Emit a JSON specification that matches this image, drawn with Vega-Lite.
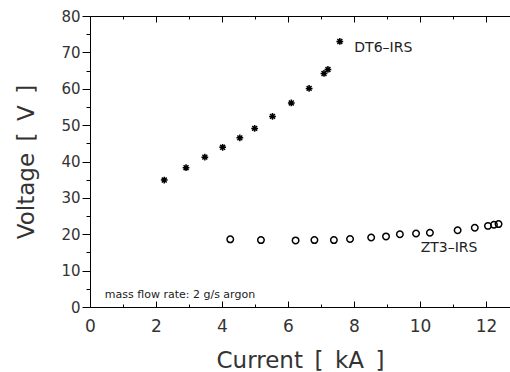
{
  "$schema": "https://vega.github.io/schema/vega-lite/v6.json",
  "width": 420,
  "height": 291,
  "autosize": {"type": "none"},
  "padding": {"left": 90, "top": 16, "right": 0, "bottom": 65},
  "background": "white",
  "config": {
    "view": {"stroke": null},
    "font": "DejaVu Sans",
    "axis": {"grid": false, "domainColor": "#000", "tickColor": "#000", "labelColor": "#333", "titleColor": "#333", "titleFontWeight": "normal", "domainWidth": 1, "tickWidth": 1}
  },
  "datasets": {
    "points": [
      {"current": 2.25, "voltage": 34.9, "series": "DT6-IRS"},
      {"current": 2.91, "voltage": 38.3, "series": "DT6-IRS"},
      {"current": 3.48, "voltage": 41.2, "series": "DT6-IRS"},
      {"current": 4.02, "voltage": 43.9, "series": "DT6-IRS"},
      {"current": 4.54, "voltage": 46.5, "series": "DT6-IRS"},
      {"current": 4.99, "voltage": 49.1, "series": "DT6-IRS"},
      {"current": 5.53, "voltage": 52.4, "series": "DT6-IRS"},
      {"current": 6.10, "voltage": 56.1, "series": "DT6-IRS"},
      {"current": 6.64, "voltage": 60.1, "series": "DT6-IRS"},
      {"current": 7.09, "voltage": 64.2, "series": "DT6-IRS"},
      {"current": 7.21, "voltage": 65.3, "series": "DT6-IRS"},
      {"current": 7.57, "voltage": 73.0, "series": "DT6-IRS"},
      {"current": 4.25, "voltage": 18.6, "series": "ZT3-IRS"},
      {"current": 5.18, "voltage": 18.4, "series": "ZT3-IRS"},
      {"current": 6.23, "voltage": 18.3, "series": "ZT3-IRS"},
      {"current": 6.80, "voltage": 18.4, "series": "ZT3-IRS"},
      {"current": 7.39, "voltage": 18.4, "series": "ZT3-IRS"},
      {"current": 7.88, "voltage": 18.7, "series": "ZT3-IRS"},
      {"current": 8.52, "voltage": 19.1, "series": "ZT3-IRS"},
      {"current": 8.97, "voltage": 19.4, "series": "ZT3-IRS"},
      {"current": 9.39, "voltage": 20.0, "series": "ZT3-IRS"},
      {"current": 9.88, "voltage": 20.2, "series": "ZT3-IRS"},
      {"current": 10.30, "voltage": 20.4, "series": "ZT3-IRS"},
      {"current": 11.14, "voltage": 21.1, "series": "ZT3-IRS"},
      {"current": 11.66, "voltage": 21.8, "series": "ZT3-IRS"},
      {"current": 12.06, "voltage": 22.3, "series": "ZT3-IRS"},
      {"current": 12.24, "voltage": 22.6, "series": "ZT3-IRS"},
      {"current": 12.38, "voltage": 22.8, "series": "ZT3-IRS"}
    ],
    "labels": [
      {"current": 8.01, "voltage": 71.2, "text": "DT6–IRS", "kind": "series"},
      {"current": 10.02, "voltage": 16.1, "text": "ZT3–IRS", "kind": "series"},
      {"current": 0.45, "voltage": 3.3, "text": "mass flow rate: 2 g/s argon", "kind": "note"}
    ]
  },
  "layer": [
    {
      "data": {"name": "points"},
      "mark": {"type": "point", "filled": false, "strokeWidth": 1.5, "opacity": 1},
      "encoding": {
        "x": {
          "field": "current", "type": "quantitative",
          "scale": {"domain": [0, 12.727], "nice": false, "zero": false},
          "axis": {
            "orient": "bottom", "title": "Current\u2002[\u2002kA\u2002]", "titleFontSize": 23, "titlePadding": 15,
            "values": [0,2,4,6,8,10,12],
            "labelFontSize": 17, "labelPadding": 17, "labelFlush": false,
            "tickSize": -6
          }
        },
        "y": {
          "field": "voltage", "type": "quantitative",
          "scale": {"domain": [0, 80], "nice": false},
          "axis": {
            "title": "Voltage\u2002[\u2002V\u2002]", "titleFontSize": 23, "titlePadding": 22,
            "values": [0,10,20,30,40,50,60,70,80],
            "labelFontSize": 15, "labelPadding": 2, "labelFlush": false, "labelOverlap": false,
            "tickSize": 8
          }
        },
        "shape": {
          "field": "series", "type": "nominal",
          "scale": {"domain": ["DT6-IRS", "ZT3-IRS"], "range": ["M-1,0L1,0M0,-1L0,1M-0.72,-0.72L0.72,0.72M-0.72,0.72L0.72,-0.72", "circle"]},
          "legend": null
        },
        "size": {
          "field": "series", "type": "nominal",
          "scale": {"domain": ["DT6-IRS", "ZT3-IRS"], "range": [46, 42]},
          "legend": null
        },
        "color": {"value": "#000"}
      }
    },
    {
      "data": {"name": "labels"},
      "mark": {"type": "text", "align": "left", "baseline": "middle", "color": "#222"},
      "encoding": {
        "x": {
          "field": "current", "type": "quantitative",
          "axis": {
            "orient": "top", "title": null, "labels": false,
            "values": [0,2,4,6,8,10,12],
            "tickSize": -6
          }
        },
        "y": {"field": "voltage", "type": "quantitative", "axis": null},
        "text": {"field": "text"},
        "size": {
          "field": "kind", "type": "nominal",
          "scale": {"domain": ["series", "note"], "range": [14, 11]},
          "legend": null
        }
      }
    },
    {
      "data": {"name": "labels"},
      "mark": {"type": "point", "opacity": 0},
      "encoding": {
        "x": {
          "field": "current", "type": "quantitative",
          "axis": {
            "orient": "bottom", "title": null, "labels": false, "domain": false,
            "values": [1,3,5,7,9,11],
            "tickSize": -3
          }
        },
        "y": {
          "field": "voltage", "type": "quantitative",
          "axis": {
            "orient": "left", "title": null, "labels": false, "domain": false,
            "values": [5,15,25,35,45,55,65,75],
            "tickSize": 4
          }
        }
      }
    },
    {
      "data": {"name": "labels"},
      "mark": {"type": "point", "opacity": 0},
      "encoding": {
        "x": {
          "field": "current", "type": "quantitative",
          "axis": {
            "orient": "top", "title": null, "labels": false, "domain": false,
            "values": [1,3,5,7,9,11],
            "tickSize": -3
          }
        },
        "y": {"field": "voltage", "type": "quantitative", "axis": null}
      }
    }
  ],
  "resolve": {"axis": {"x": "independent", "y": "independent"}, "scale": {"size": "independent"}}
}
